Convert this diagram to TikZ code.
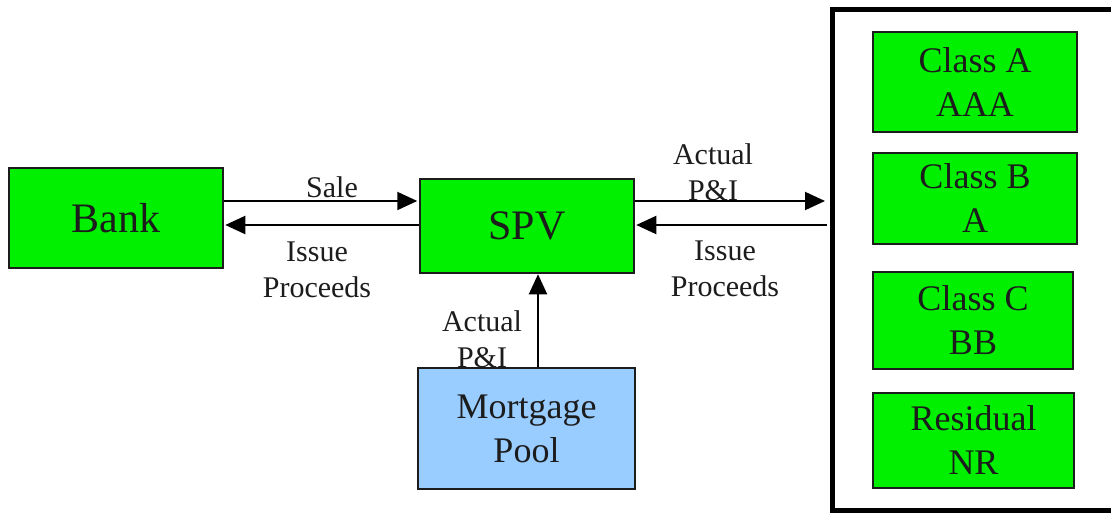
\documentclass[tikz,border=0pt]{standalone}
\usepackage{fontspec}
\setmainfont{Liberation Serif}
\usetikzlibrary{arrows.meta}
\definecolor{boxgreen}{RGB}{0,240,0}
\definecolor{poolblue}{RGB}{153,204,255}
\definecolor{ink}{RGB}{28,28,28}
\tikzset{
  entity/.style={draw=ink, line width=2.5pt, fill=boxgreen, text=ink, align=center,
    inner sep=0pt, font=\fontsize{36}{44}\selectfont},
  bigentity/.style={entity, font=\fontsize{42}{48}\selectfont},
  flow/.style={draw=black, line width=2pt, -{Triangle[length=20pt,width=18pt]}},
  flowlabel/.style={text=ink, align=center, inner sep=0pt, anchor=south,
    font=\fontsize{30}{36}\selectfont},
}
\begin{document}
\begin{tikzpicture}[x=1pt, y=-1pt]
  \useasboundingbox (0,0) rectangle (1111,513);

  % parties
  \node[bigentity, minimum width=214pt, minimum height=100pt] (bank) at (116,218) {Bank};
  \node[bigentity, minimum width=214pt, minimum height=94pt] (spv) at (527,226) {SPV};
  \node[entity, fill=poolblue, minimum width=217pt, minimum height=121pt] (pool) at (526.5,428.5) {Mortgage\\Pool};

  % investor tranches
  \node[draw=black, line width=5pt, minimum width=290pt, minimum height=501pt] (investors) at (977,260) {};
  \node[entity, minimum width=204pt, minimum height=100pt] (classA) at (975,82) {Class A\\AAA};
  \node[entity, minimum width=204pt, minimum height=91pt] (classB) at (975,198.5) {Class B\\A};
  \node[entity, minimum width=200pt, minimum height=97pt] (classC) at (973,320.5) {Class C\\BB};
  \node[entity, minimum width=201pt, minimum height=95pt] (resid) at (973.5,440.5) {Residual\\NR};

  % levels of the paired flows
  \coordinate (upper) at (0,201);
  \coordinate (lower) at (0,225);
  \coordinate (vert) at (538,0);

  % flow labels
  \node[flowlabel] (sale) at (332,198) {Sale};
  \node[flowlabel] (procL) at (317,298) {Issue\\Proceeds};
  \node[flowlabel] (piR) at (713,201) {Actual\\P\&I};
  \node[flowlabel] (procR) at (725,297) {Issue\\Proceeds};
  \node[flowlabel] (piB) at (482,368) {Actual\\P\&I};

  % flows
  \draw[flow, shorten >=1.5pt] (bank.east |- upper) -- (spv.west |- upper);
  \draw[flow, shorten >=1pt] (spv.west |- lower) -- (bank.east |- lower);
  \draw[flow, shorten >=4.5pt] (spv.east |- upper) -- (investors.west |- upper);
  \draw[flow, shorten <=2.5pt, shorten >=1pt] (investors.west |- lower) -- (spv.east |- lower);
  \draw[flow] (pool.north -| vert) -- (spv.south -| vert);
\end{tikzpicture}
\end{document}
